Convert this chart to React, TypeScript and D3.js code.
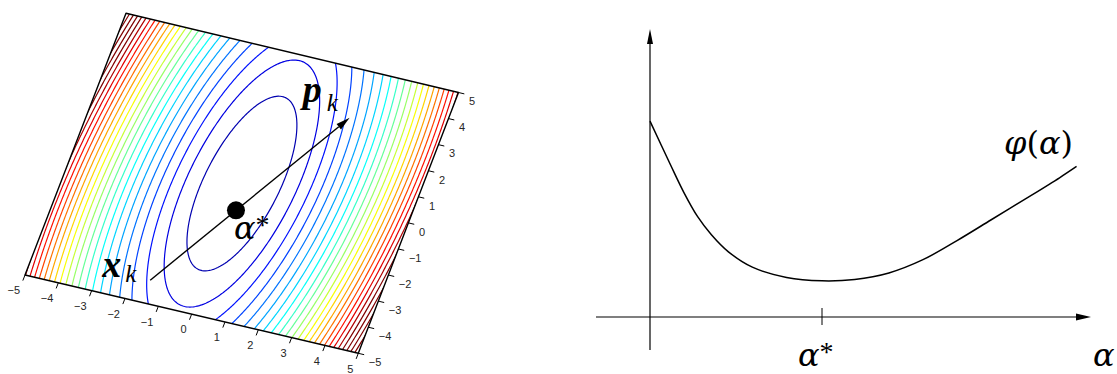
import React, { useEffect } from 'react';
import * as d3 from 'd3';

// ---- left panel: contours of f(u,v) = a*u^2 + b*u*v + c*v^2 on [-5,5]^2
const quadCoef = [0.81, -0.095, 0.09];
const contourLevels = [1, 2, 3, 4, 5, 6, 7, 8, 9, 10, 11, 12, 13, 14, 15, 16, 17, 18, 19, 20, 21, 22, 23, 24];
const colorRange = [0, 21]; // jet colour limits (higher levels saturate to dark red)
const axisTicks = [-5, -4, -3, -2, -1, 0, 1, 2, 3, 4, 5];
const startPoint = [-1.5, -4.15]; // x_k
const arrowTip = [2.27, 3.2]; // x_k + p_k
const minPoint = [0.12, -0.99]; // alpha*

// ---- right panel: phi(alpha)
const alphaVals = [0, 0.119, 0.198, 0.277, 0.357, 0.456, 0.595, 0.794, 1.0, 1.19, 1.389, 1.587, 1.785, 1.984, 2.183, 2.381, 2.48];
const phiVals = [2.041, 1.586, 1.294, 1.045, 0.857, 0.679, 0.519, 0.412, 0.377, 0.391, 0.459, 0.597, 0.796, 1.013, 1.23, 1.45, 1.568];
const alphaStar = 1.0;

const f = (u: number, v: number) => quadCoef[0] * u * u + quadCoef[1] * u * v + quadCoef[2] * v * v;

// screen corners of the tilted plane
const BL = [25, 275];
const BR = [358.3, 353.3];
const TL = [126, 13.3];
const TR = [458.5, 92.5];

const unit = d3.scaleLinear().domain([-5, 5]).range([0, 1]);

function proj(u: number, v: number): [number, number] {
  const s = unit(u), t = unit(v);
  const x = (1 - s) * (1 - t) * BL[0] + s * (1 - t) * BR[0] + (1 - s) * t * TL[0] + s * t * TR[0];
  const y = (1 - s) * (1 - t) * BL[1] + s * (1 - t) * BR[1] + (1 - s) * t * TL[1] + s * t * TR[1];
  return [x, y];
}

function jet(t: number) {
  const c = (x: number) => Math.max(0, Math.min(1, x));
  return d3.rgb(255 * c(1.5 - Math.abs(4 * t - 3)), 255 * c(1.5 - Math.abs(4 * t - 2)), 255 * c(1.5 - Math.abs(4 * t - 1))).toString();
}

const norm = (a: number[], b: number[]) => {
  const dx = b[0] - a[0], dy = b[1] - a[1];
  const l = Math.hypot(dx, dy);
  return [dx / l, dy / l];
};

export default function App() {
  useEffect(() => {
    document.body.style.margin = '0';
  }, []);

  // contour grid (a bit larger than the box, clipped afterwards)
  const n = 212;
  const lo = -5.3;
  const step = 10.6 / n;
  const values = new Float64Array(n * n);
  for (let j = 0; j < n; j++) {
    for (let i = 0; i < n; i++) {
      values[j * n + i] = f(lo + (i + 0.5) * step, lo + (j + 0.5) * step);
    }
  }
  const colorT = d3.scaleLinear().domain(colorRange).range([0, 1]).clamp(true);
  const contours = d3.contours().size([n, n]).thresholds(contourLevels)(Array.from(values));
  const contourPaths = contours.map((c) => ({
    level: c.value,
    d: c.coordinates
      .map((poly) =>
        poly.map((ring) => 'M' + ring.map(([gx, gy]) => proj(lo + gx * step, lo + gy * step).join(',')).join('L') + 'Z').join('')
      )
      .join(''),
  }));

  const boxPath = 'M' + [proj(-5, -5), proj(5, -5), proj(5, 5), proj(-5, 5)].map((p) => p.join(',')).join('L') + 'Z';

  const p0 = proj(startPoint[0], startPoint[1]);
  const p1 = proj(arrowTip[0], arrowTip[1]);
  const pd = norm(p0, p1);
  const headLen = 14, headW = 3.5;
  const hb = [p1[0] - pd[0] * headLen, p1[1] - pd[1] * headLen];
  const head = `M${p1[0]},${p1[1]}L${hb[0] - pd[1] * headW},${hb[1] + pd[0] * headW}L${hb[0] + pd[1] * headW},${hb[1] - pd[0] * headW}Z`;
  const pm = proj(minPoint[0], minPoint[1]);

  // right panel scales
  const xA = d3.scaleLinear().domain([0, 1]).range([650, 822]);
  const yP = d3.scaleLinear().domain([0, 1]).range([317, 221]);
  const line = d3
    .line<number>()
    .x((i) => xA(alphaVals[i]))
    .y((i) => yP(phiVals[i]))
    .curve(d3.curveCatmullRom);
  const ax0 = xA(0), ay0 = yP(0);

  const tickFont = { fontFamily: '"Liberation Sans", Arial, sans-serif', fontSize: 11, fill: '#262626' };
  const mathFont = '"Liberation Serif", "DejaVu Serif", serif';
  const greekFont = '"DejaVu Serif", "Liberation Serif", serif';

  return (
    <svg width={1117} height={374} style={{ display: 'block', background: '#fff' }}>
      <defs>
        <clipPath id="box">
          <path d={boxPath} />
        </clipPath>
      </defs>

      {/* left panel */}
      <g clipPath="url(#box)">
        {contourPaths.map((c) => (
          <path key={c.level} d={c.d} fill="none" stroke={jet(colorT(c.level))} strokeWidth={1.2} />
        ))}
      </g>
      <path d={boxPath} fill="none" stroke="#000" strokeWidth={1.4} strokeLinejoin="round" />

      {axisTicks.map((u) => {
        const b = proj(u, -5);
        const dir = norm(proj(u, 5), b);
        return (
          <g key={'bx' + u}>
            <line x1={b[0]} y1={b[1]} x2={b[0] + dir[0] * 6} y2={b[1] + dir[1] * 6} stroke="#000" strokeWidth={1} />
            <text x={b[0] - 5} y={b[1] + 15.3} textAnchor="end" dominantBaseline="central" {...tickFont}>
              {u < 0 ? '\u2212' + Math.abs(u) : u}
            </text>
          </g>
        );
      })}
      {axisTicks.map((v) => {
        const b = proj(5, v);
        const dir = norm(proj(-5, v), b);
        return (
          <g key={'ry' + v}>
            <line x1={b[0]} y1={b[1]} x2={b[0] + dir[0] * 6} y2={b[1] + dir[1] * 6} stroke="#000" strokeWidth={1} />
            <text x={b[0] + 10.5} y={b[1] + 8.8} textAnchor="start" dominantBaseline="central" {...tickFont}>
              {v < 0 ? '\u2212' + Math.abs(v) : v}
            </text>
          </g>
        );
      })}

      <line x1={p0[0]} y1={p0[1]} x2={hb[0]} y2={hb[1]} stroke="#000" strokeWidth={1.4} />
      <path d={head} fill="#000" />
      <circle cx={pm[0]} cy={pm[1]} r={9} fill="#000" />

      <text x={p0[0] - 48} y={p0[1] - 3} fontFamily={mathFont} fontSize={38} fontStyle="italic" fontWeight="bold">x</text>
      <text x={p0[0] - 25} y={p0[1] + 2} fontFamily={mathFont} fontSize={25} fontStyle="italic">k</text>
      <text x={p1[0] - 47} y={p1[1] - 16} fontFamily={mathFont} fontSize={38} fontStyle="italic" fontWeight="bold">p</text>
      <text x={p1[0] - 23} y={p1[1] - 7} fontFamily={mathFont} fontSize={25} fontStyle="italic">k</text>
      <text x={pm[0] - 2} y={pm[1] + 29} fontFamily={greekFont} fontSize={32} fontStyle="italic">
        α<tspan fontFamily={mathFont} fontStyle="normal" fontSize={28} dy={-5}>*</tspan>
      </text>

      {/* right panel */}
      <line x1={596} y1={ay0} x2={1076} y2={ay0} stroke="#000" strokeWidth={1.2} />
      <path d={`M1091,${ay0}L1076,${ay0 - 3.5}L1076,${ay0 + 3.5}Z`} fill="#000" />
      <line x1={ax0} y1={350} x2={ax0} y2={43} stroke="#000" strokeWidth={1.2} />
      <path d={`M${ax0},29L${ax0 - 3},44L${ax0 + 3},44Z`} fill="#000" />
      <line x1={xA(alphaStar)} y1={ay0 - 9} x2={xA(alphaStar)} y2={ay0 + 8} stroke="#000" strokeWidth={1} />
      <path d={line(d3.range(alphaVals.length)) as string} fill="none" stroke="#000" strokeWidth={1.5} />

      <text x={1004} y={154} fontFamily={greekFont} fontSize={32}>
        <tspan fontStyle="italic">φ</tspan>(<tspan fontStyle="italic">α</tspan>)
      </text>
      <text x={xA(alphaStar) - 24} y={366} fontFamily={greekFont} fontSize={32} fontStyle="italic">
        α<tspan fontFamily={mathFont} fontStyle="normal" fontSize={28} dy={-5}>*</tspan>
      </text>
      <text x={1093} y={366} fontFamily={greekFont} fontSize={32} fontStyle="italic">α</text>
    </svg>
  );
}
